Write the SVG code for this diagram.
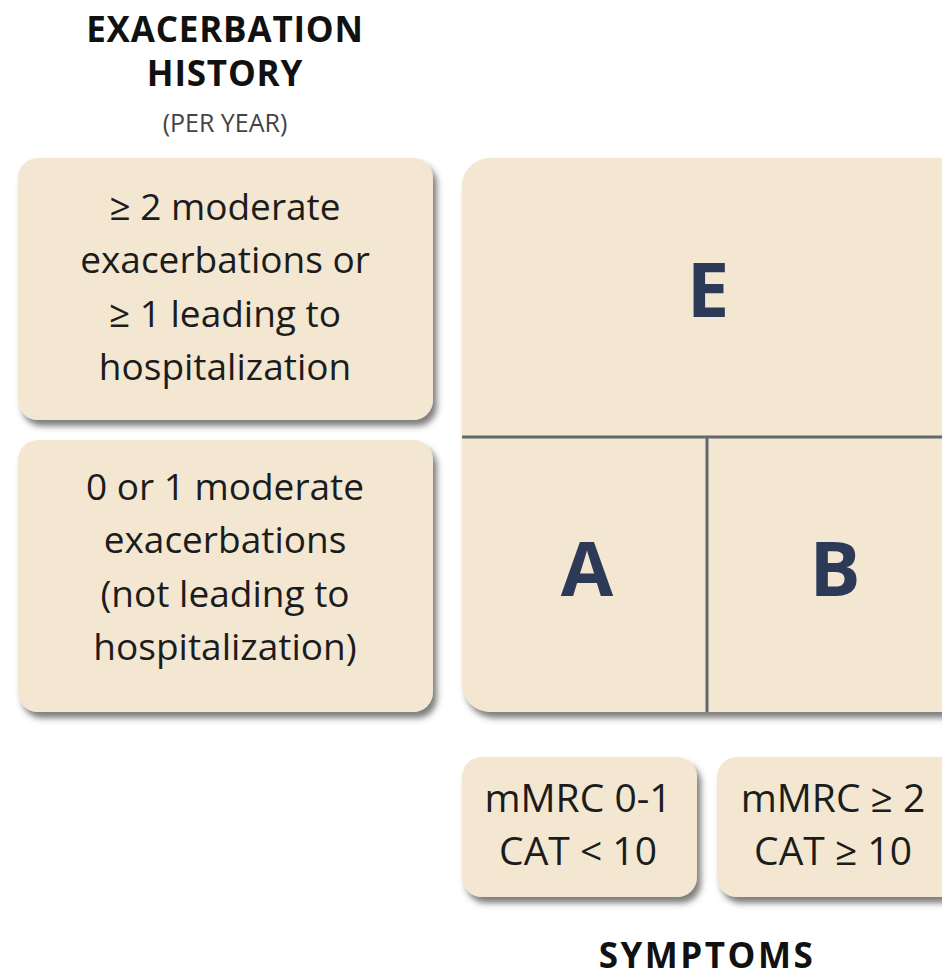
<svg xmlns="http://www.w3.org/2000/svg" width="942" height="977" viewBox="0 0 942 977">
<defs>
<filter id="sh" x="-10%" y="-10%" width="125%" height="130%">
<feDropShadow dx="4" dy="6" stdDeviation="3" flood-color="#444" flood-opacity="0.7"/>
</filter>
<style>
.box{fill:#f3e7d2;filter:url(#sh);}
.t{font-family:"Open Sans","Liberation Sans",sans-serif;fill:#1c1c1c;text-anchor:middle;}
.body{font-size:37px;}
.sym{font-size:39px;}
.hd{font-weight:bold;font-size:35px;fill:#111;letter-spacing:0.8px;}
.sub{font-size:25px;fill:#444;}
.big{font-family:"Open Sans","Liberation Sans",sans-serif;font-weight:bold;font-size:76px;fill:#2c3a58;text-anchor:middle;}
.div{stroke:#626870;stroke-width:3;fill:none;}
</style>
</defs>
<g id="header">
<text class="t hd" x="225" y="42">EXACERBATION</text>
<text class="t hd" x="225" y="86">HISTORY</text>
<text class="t sub" x="225" y="132">(PER YEAR)</text>
</g>
<g id="box-high">
<rect class="box" x="18" y="158" width="415" height="262" rx="20"/>
<text class="t body" x="225" y="220">≥ 2 moderate</text>
<text class="t body" x="225" y="273">exacerbations or</text>
<text class="t body" x="225" y="327">≥ 1 leading to</text>
<text class="t body" x="225" y="380">hospitalization</text>
</g>
<g id="box-low">
<rect class="box" x="18" y="440" width="415" height="272" rx="20"/>
<text class="t body" x="225" y="500">0 or 1 moderate</text>
<text class="t body" x="225" y="553">exacerbations</text>
<text class="t body" x="225" y="607">(not leading to</text>
<text class="t body" x="225" y="660">hospitalization)</text>
</g>
<g id="grid">
<rect class="box" x="462" y="158" width="510" height="554" rx="28"/>
<text class="big" x="708" y="317">E</text>
<text class="big" x="587" y="596">A</text>
<text class="big" x="835" y="596">B</text>
</g>
<g id="connectors">
<line class="div" x1="462" y1="437" x2="942" y2="437"/>
<line class="div" x1="707" y1="437" x2="707" y2="712"/>
</g>
<g id="sym-low">
<rect class="box" x="462" y="757" width="235" height="140" rx="20"/>
<text class="t sym" x="578" y="812">mMRC 0-1</text>
<text class="t sym" x="578" y="865">CAT &lt; 10</text>
</g>
<g id="sym-high">
<rect class="box" x="717" y="757" width="255" height="140" rx="20"/>
<text class="t sym" x="833" y="812">mMRC ≥ 2</text>
<text class="t sym" x="833" y="865">CAT ≥ 10</text>
</g>
<g id="footer">
<text class="t hd" x="707" y="968" style="font-size:35px;letter-spacing:2.5px">SYMPTOMS</text>
</g>
</svg>
